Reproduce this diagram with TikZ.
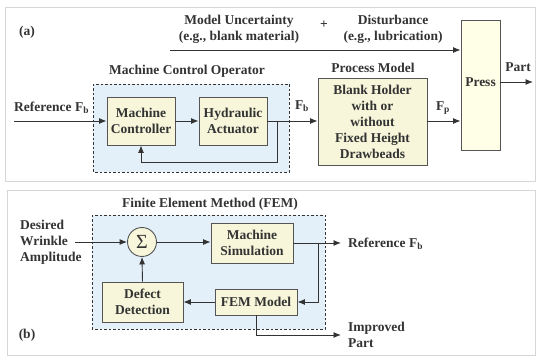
\documentclass[tikz,border=0pt]{standalone}
\usepackage{fontspec}
\setmainfont{Liberation Serif}
\usetikzlibrary{arrows.meta}
\definecolor{boxfill}{HTML}{F7F6DA}
\definecolor{pressfill}{HTML}{FFFEE6}
\definecolor{bluefill}{HTML}{E3F0FA}
\definecolor{linec}{HTML}{333333}
\definecolor{edgec}{HTML}{555555}
\definecolor{framec}{HTML}{D6D6D6}
\begin{document}
\begin{tikzpicture}[x=1pt,y=-1pt,
  font=\fontsize{13.5}{16}\selectfont\bfseries,
  txt/.style={text=linec, inner sep=0pt},
  blk/.style={draw=edgec, line width=0.9pt, fill=boxfill, text=linec, align=center, inner sep=0pt},
  grp/.style={draw=linec, dashed, dash pattern=on 2.5pt off 2pt, line width=0.9pt, fill=bluefill},
  frm/.style={draw=framec, line width=0.8pt},
  arr/.style={draw=linec, line width=0.9pt, -{Latex[length=7.5pt,width=6pt]}},
  ln/.style={draw=linec, line width=0.9pt}]
\useasboundingbox (0,0) rectangle (539,358);
% panel frames
\draw[frm] (5,7) rectangle (535,181);
\draw[frm] (7,190) rectangle (535,355);

% ---------- (a) ----------
\node[txt] (la) at (27,32) {(a)};
\node[txt, align=center] (mu) at (239,29) {Model Uncertainty\\(e.g., blank material)};
\node[txt] (plus) at (324,25) {+};
\node[txt, align=center] (dist) at (393,29) {Disturbance\\(e.g., lubrication)};
\node[txt] (mcol) at (187,71) {Machine Control Operator};
\draw[grp] (93,84) rectangle (289,172);
\node[txt] (pmol) at (373,68) {Process Model};

\node[blk, minimum width=68pt, minimum height=48pt] (mc) at (141,121) {Machine\\Controller};
\node[blk, minimum width=68pt, minimum height=48pt] (ha) at (233,121) {Hydraulic\\Actuator};
\node[blk, minimum width=109pt, minimum height=87pt] (pm) at (372.5,121.5) {Blank Holder\\with or\\without\\Fixed Height\\Drawbeads};
\node[draw=edgec, line width=0.9pt, fill=pressfill, minimum width=39pt, minimum height=130pt, inner sep=0pt] (press) at (480.5,85) {};
\node[txt] (presst) at (480.5,82) {Press};

\coordinate (dstart) at (170,50);
\coordinate (refin) at (14,121);
\coordinate (partend) at (533,82);
\coordinate (fbk) at (277,121);

\node[txt, anchor=west] (refl) at (14,108) {Reference F\textsubscript{b}};
\node[txt] (fbl) at (302,106) {F\textsubscript{b}};
\node[txt] (fpl) at (443,108) {F\textsubscript{p}};
\node[txt] (partl) at (518,67) {Part};

\draw[arr] (dstart) -- (press.west |- dstart);
\draw[arr] (refin) -- (mc.west |- refin);
\draw[arr] (mc.east) -- (ha.west);
\draw[arr] (ha.east) -- (pm.west |- ha.east);
\draw[arr] (fbk) -- ++(0,41) -| (mc.south);
\draw[arr] (pm.east |- ha.east) -- (press.west |- ha.east);
\draw[arr] (press.east |- partend) -- (partend);

% ---------- (b) ----------
\node[txt] (femt) at (210,204) {Finite Element Method (FEM)};
\draw[grp] (92,215) rectangle (325,329);
\node[txt] (lb) at (27,335) {(b)};
\node[txt, anchor=west, align=left] (dwa) at (20,242) {Desired\\Wrinkle\\Amplitude};
\node[draw=edgec, line width=0.9pt, fill=boxfill, circle, minimum size=29pt, inner sep=0pt, text=linec, font=\fontsize{20}{20}\selectfont] (sig) at (142,242) {Σ};
\node[blk, minimum width=82pt, minimum height=40pt] (ms) at (252,243) {Machine\\Simulation};
\node[blk, minimum width=82pt, minimum height=26pt] (fem) at (256,302) {FEM Model};
\node[blk, minimum width=81pt, minimum height=40pt] (dd) at (142.5,302) {Defect\\Detection};

\coordinate (dwin) at (75,242);
\coordinate (refout) at (341,243);
\coordinate (fb2) at (318,243);
\coordinate (impout) at (341,335);

\node[txt, anchor=west] (refl2) at (348,244) {Reference F\textsubscript{b}};
\node[txt, anchor=west, align=left] (impl) at (348,335) {Improved\\Part};

\draw[arr] (dwin) -- (sig.west);
\draw[arr] (sig.east) -- (ms.west |- sig.east);
\draw[arr] (ms.east |- refout) -- (refout);
\draw[arr] (fb2) |- (fem.east);
\draw[arr] (fem.west) -- (dd.east);
\draw[arr] (dd.north) -- (sig.south);
\draw[arr] (fem.south) |- (impout);
\end{tikzpicture}
\end{document}
